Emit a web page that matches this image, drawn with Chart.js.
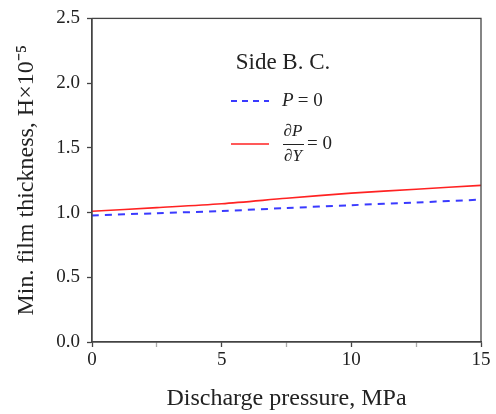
<!DOCTYPE html>
<html>
<head>
<meta charset="utf-8">
<script src="https://cdn.jsdelivr.net/npm/chart.js@4/dist/chart.umd.min.js"></script>
<style>
  html, body { margin: 0; padding: 0; background: #fff; }
  #wrap { width: 496px; height: 414px; }
</style>
</head>
<body>
<div id="wrap"><canvas id="chart"></canvas></div>
<script>
// discharge pressure, MPa
const pressure = [0, 2.5, 5, 7.5, 10, 12.5, 15];
// min. film thickness, two side boundary conditions
const zeroPressure = [0.978, 0.995, 1.012, 1.035, 1.057, 1.078, 1.10];
const zeroGradient = [1.01, 1.038, 1.068, 1.11, 1.15, 1.18, 1.21];
const yTicks = [0, 0.5, 1.0, 1.5, 2.0, 2.5];
const xTicks = [0, 5, 10, 15];

const SERIF = "'Liberation Serif', 'Times New Roman', serif";
const BLUE = "#3a3aff";
const RED = "#ff2222";

const toPoints = (ys) => pressure.map((x, i) => ({ x: x, y: ys[i] }));

// frame around the plot + hand-made legend
const framePlugin = {
  id: "frame",
  afterDatasetsDraw(chart) {
    const { ctx, chartArea: a } = chart;
    ctx.save();
    ctx.strokeStyle = "#444";
    ctx.lineWidth = 1.3;
    ctx.strokeRect(a.left, a.top, a.right - a.left, a.bottom - a.top);
    ctx.restore();
  },
  afterDraw(chart) {
    const ctx = chart.ctx;
    ctx.save();
    ctx.fillStyle = "#222";
    ctx.textBaseline = "middle";

    ctx.font = "23px " + SERIF;
    ctx.textAlign = "center";
    ctx.fillText("Side B. C.", 283, 63);

    // P = 0
    ctx.strokeStyle = BLUE;
    ctx.lineWidth = 2;
    ctx.setLineDash([6, 5]);
    ctx.beginPath();
    ctx.moveTo(231, 101);
    ctx.lineTo(269, 101);
    ctx.stroke();
    ctx.setLineDash([]);
    ctx.textAlign = "left";
    ctx.font = "italic 19px " + SERIF;
    ctx.fillText("P", 282, 101);
    ctx.font = "19px " + SERIF;
    ctx.fillText(" = 0", 293, 101);

    // dP/dY = 0
    ctx.strokeStyle = RED;
    ctx.lineWidth = 1.6;
    ctx.beginPath();
    ctx.moveTo(231, 144);
    ctx.lineTo(269, 144);
    ctx.stroke();
    ctx.font = "italic 17px " + SERIF;
    ctx.textAlign = "center";
    ctx.fillText("\u2202P", 293, 132);
    ctx.fillText("\u2202Y", 293, 157);
    ctx.strokeStyle = "#222";
    ctx.lineWidth = 1;
    ctx.beginPath();
    ctx.moveTo(283, 144.5);
    ctx.lineTo(304, 144.5);
    ctx.stroke();
    ctx.textAlign = "left";
    ctx.font = "19px " + SERIF;
    ctx.fillText("= 0", 307, 144);
    ctx.restore();
  }
};

new Chart(document.getElementById("chart"), {
  type: "line",
  data: {
    datasets: [
      {
        label: "P = 0",
        data: toPoints(zeroPressure),
        borderColor: BLUE,
        borderWidth: 2,
        borderDash: [7, 6],
        pointRadius: 0,
        tension: 0.3,
        fill: false
      },
      {
        label: "dP/dY = 0",
        data: toPoints(zeroGradient),
        borderColor: RED,
        borderWidth: 1.6,
        pointRadius: 0,
        tension: 0.3,
        fill: false
      }
    ]
  },
  options: {
    responsive: true,
    maintainAspectRatio: false,
    animation: false,
    layout: { padding: { top: 17, right: 15, left: 0, bottom: 0 } },
    plugins: {
      legend: { display: false },
      tooltip: { enabled: false }
    },
    scales: {
      x: {
        type: "linear",
        min: 0,
        max: 15,
        afterFit: (s) => { s.height = 72; },
        afterBuildTicks: (s) => {
          s.ticks = [0, 2.5, 5, 7.5, 10, 12.5, 15].map((v) => ({ value: v }));
        },
        ticks: {
          color: "#222",
          font: { family: SERIF, size: 19 },
          padding: 2,
          maxRotation: 0,
          callback: (v) => (xTicks.includes(v) ? String(v) : "")
        },
        grid: {
          drawOnChartArea: false,
          drawTicks: true,
          tickLength: 5,
          tickColor: (c) => (xTicks.includes(c.tick.value) ? "#444" : "#aaa"),
          tickWidth: 1.3
        },
        border: { display: true, color: "#444", width: 1.3 },
        title: {
          display: true,
          text: "Discharge pressure, MPa",
          color: "#222",
          font: { family: SERIF, size: 24 },
          padding: { top: 0, bottom: 1 }
        }
      },
      y: {
        min: 0,
        max: 2.5,
        afterFit: (s) => { s.width = 92; },
        afterBuildTicks: (s) => {
          s.ticks = yTicks.map((v) => ({ value: v }));
        },
        ticks: {
          color: "#222",
          font: { family: SERIF, size: 19 },
          padding: 7,
          callback: (v) => v.toFixed(1)
        },
        grid: {
          drawOnChartArea: false,
          drawTicks: true,
          tickLength: 5,
          tickColor: "#444",
          tickWidth: 1.3
        },
        border: { display: true, color: "#444", width: 1.3 },
        title: {
          display: true,
          text: "Min. film thickness, H\u00d710\u207b\u2075",
          color: "#222",
          font: { family: SERIF, size: 24 },
          padding: { top: 12, bottom: 0 }
        }
      }
    }
  },
  plugins: [framePlugin]
});
</script>
</body>
</html>
